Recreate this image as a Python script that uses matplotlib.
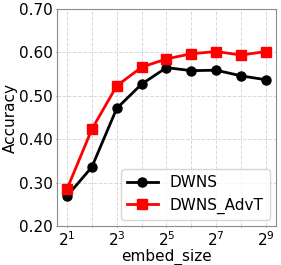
import matplotlib

matplotlib.use("Agg")
import matplotlib.pyplot as plt

embed_size = [2, 4, 8, 16, 32, 64, 128, 256, 512]
dwns = [0.269, 0.336, 0.471, 0.527, 0.565, 0.558, 0.559, 0.546, 0.537]
dwns_advt = [0.285, 0.423, 0.523, 0.566, 0.585, 0.597, 0.602, 0.594, 0.602]
tick_labels = ["$2^{1}$", "", "$2^{3}$", "", "$2^{5}$", "", "$2^{7}$", "", "$2^{9}$"]

plt.rcParams["font.size"] = 11
plt.rcParams["mathtext.default"] = "regular"

fig, ax = plt.subplots(figsize=(2.81, 2.65), dpi=100)
ax.plot(embed_size, dwns, color="black", marker="o", markersize=6.5,
        linewidth=2, label="DWNS")
ax.plot(embed_size, dwns_advt, color="red", marker="s", markersize=6.5,
        linewidth=2, label="DWNS_AdvT")
ax.set_xscale("log", base=2)
ax.set_xticks(embed_size)
ax.set_xticklabels(tick_labels)
ax.minorticks_off()
ax.set_ylim(0.2, 0.7)
ax.set_yticks([0.2, 0.3, 0.4, 0.5, 0.6, 0.7])
ax.set_yticklabels(["0.20", "0.30", "0.40", "0.50", "0.60", "0.70"])
ax.set_xlabel("embed_size", labelpad=0)
ax.set_ylabel("Accuracy", labelpad=1)
ax.grid(True, linestyle="--", color="0.85", linewidth=0.7)
for s in ax.spines.values():
    s.set_color("0.55")
ax.tick_params(length=1, pad=2, color="0.55")
ax.legend(loc="lower right", fontsize=11, handlelength=2, borderaxespad=0.4)
fig.subplots_adjust(left=0.203, right=0.982, top=0.966, bottom=0.147)
fig.savefig("out.png", dpi=100)
